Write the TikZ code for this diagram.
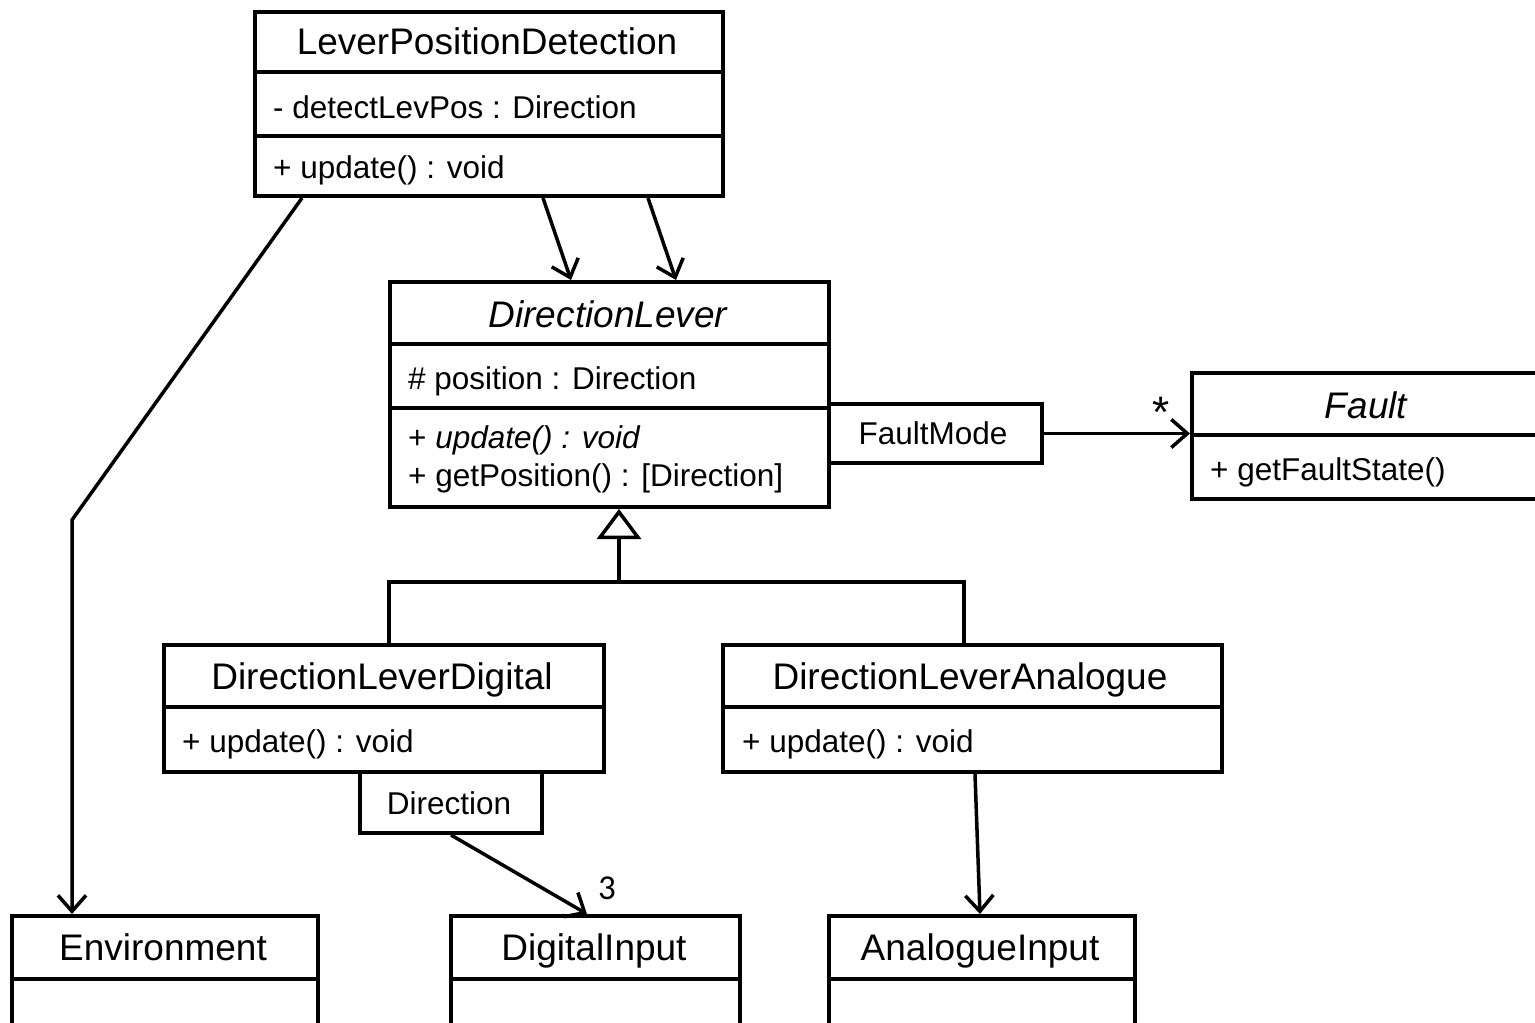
\documentclass[tikz,border=0pt]{standalone}
\usepackage{fontspec}
\setmainfont{Liberation Sans}
\newfontfamily\calibfont{Carlito}
\usetikzlibrary{arrows.meta}
\begin{document}
\begin{tikzpicture}[x=1pt,y=-1pt,
  box/.style={draw, line width=4pt, fill=white, inner sep=0pt, anchor=north west},
  sep/.style={line width=4pt},
  ttl/.style={font=\fontsize{37}{40}\selectfont, anchor=base, inner sep=0pt},
  itm/.style={font=\fontsize{31.5}{36}\selectfont, anchor=base west, inner sep=0pt},
  lbl/.style={font=\fontsize{31.5}{36}\selectfont, anchor=base, inner sep=0pt},
  mult/.style={font=\calibfont\fontsize{35}{40}\selectfont, anchor=base, inner sep=0pt},
  assoc/.style={line width=3.5pt, -{Straight Barb[length=16pt,width=28pt]}},
  link/.style={line width=3.5pt},
  gen/.style={line width=3.5pt, -{Triangle[open,length=30pt,width=44pt]}},
]
\useasboundingbox (0,0) rectangle (1535,1023);
\clip (0,0) rectangle (1535,1023);

% ---- LeverPositionDetection
\node[box, minimum width=468pt, minimum height=184pt] (lpd) at (253,10) {};
\draw[sep] (lpd.west |- 0,72) -- (lpd.east |- 0,72);
\draw[sep] (lpd.west |- 0,136) -- (lpd.east |- 0,136);
\node[ttl] (lpdT) at (487,54) {LeverPositionDetection};
\node[itm] (lpdA) at (273,118) {- detectLevPos : Direction};
\node[itm] (lpdO) at (273,178) {+ update() : void};

% ---- DirectionLever
\node[box, minimum width=439pt, minimum height=225pt] (dl) at (388,280) {};
\draw[sep] (dl.west |- 0,344) -- (dl.east |- 0,344);
\draw[sep] (dl.west |- 0,408) -- (dl.east |- 0,408);
\node[ttl, font=\fontsize{37}{40}\selectfont\itshape] (dlT) at (608,327) {DirectionLever};
\node[itm] (dlA) at (408,389) {\# position : Direction};
\node[itm] (dlO1) at (408,448) {+ \textit{update() : void}};
\node[itm] (dlO2) at (408,486) {+ getPosition() : [Direction]};

% ---- FaultMode qualifier
\node[box, minimum width=213pt, minimum height=59pt] (fm) at (827,402) {};
\node[lbl] (fmT) at (933,444) {FaultMode};

% ---- Fault
\node[box, minimum width=350pt, minimum height=126pt] (fault) at (1190,371) {};
\draw[sep] (fault.west |- 0,435) -- (fault.east |- 0,435);
\node[ttl, font=\fontsize{37}{40}\selectfont\itshape] (faultT) at (1366,418) {Fault};
\node[itm] (faultO) at (1210,480) {+ getFaultState()};

% ---- DirectionLeverDigital
\node[box, minimum width=440pt, minimum height=127pt] (dld) at (162,643) {};
\draw[sep] (dld.west |- 0,707) -- (dld.east |- 0,707);
\node[ttl] (dldT) at (382,689) {DirectionLeverDigital};
\node[itm] (dldO) at (182,752) {+ update() : void};

% ---- Direction qualifier
\node[box, minimum width=182pt, minimum height=61pt] (dir) at (358,770) {};
\node[lbl] (dirT) at (449,814) {Direction};

% ---- DirectionLeverAnalogue
\node[box, minimum width=499pt, minimum height=127pt] (dla) at (721,643) {};
\draw[sep] (dla.west |- 0,707) -- (dla.east |- 0,707);
\node[ttl] (dlaT) at (970,689) {DirectionLeverAnalogue};
\node[itm] (dlaO) at (742,752) {+ update() : void};

% ---- bottom row
\node[box, minimum width=306pt, minimum height=150pt] (env) at (10,914) {};
\draw[sep] (env.west |- 0,979) -- (env.east |- 0,979);
\node[ttl] (envT) at (163,960) {Environment};

\node[box, minimum width=289pt, minimum height=150pt] (di) at (449,914) {};
\draw[sep] (di.west |- 0,979) -- (di.east |- 0,979);
\node[ttl] (diT) at (594,960) {DigitalInput};

\node[box, minimum width=306pt, minimum height=150pt] (ai) at (827,914) {};
\draw[sep] (ai.west |- 0,979) -- (ai.east |- 0,979);
\node[ttl] (aiT) at (980,960) {AnalogueInput};

% ---- associations
\draw[assoc] ([xshift=290pt]lpd.south west) -- ([xshift=183pt]dl.north west);
\draw[assoc] ([xshift=395pt]lpd.south west) -- ([xshift=288pt]dl.north west);
\coordinate (bend) at (72,520);
\draw[assoc] ([xshift=49pt]lpd.south west) -- (bend) -- (bend |- env.north);
\draw[assoc] (fm.east) -- (fm.east -| fault.west);
\node[font=\fontsize{44}{48}\selectfont, anchor=base, inner sep=0pt] (star) at (1161,427) {*};
\draw[assoc] (dir.south) -- ([xshift=138pt]di.north west);
\node[mult] (three) at (607,899) {3};
\draw[assoc] ([xshift=254pt]dla.south west) -- ([xshift=153pt]ai.north west);

% ---- generalisation
\coordinate (junc) at (619,582);
\draw[link] ([xshift=227pt]dld.north west) |- (junc) -| ([xshift=243pt]dla.north west);
\draw[gen] (junc) -- (junc |- dl.south);
\end{tikzpicture}
\end{document}
